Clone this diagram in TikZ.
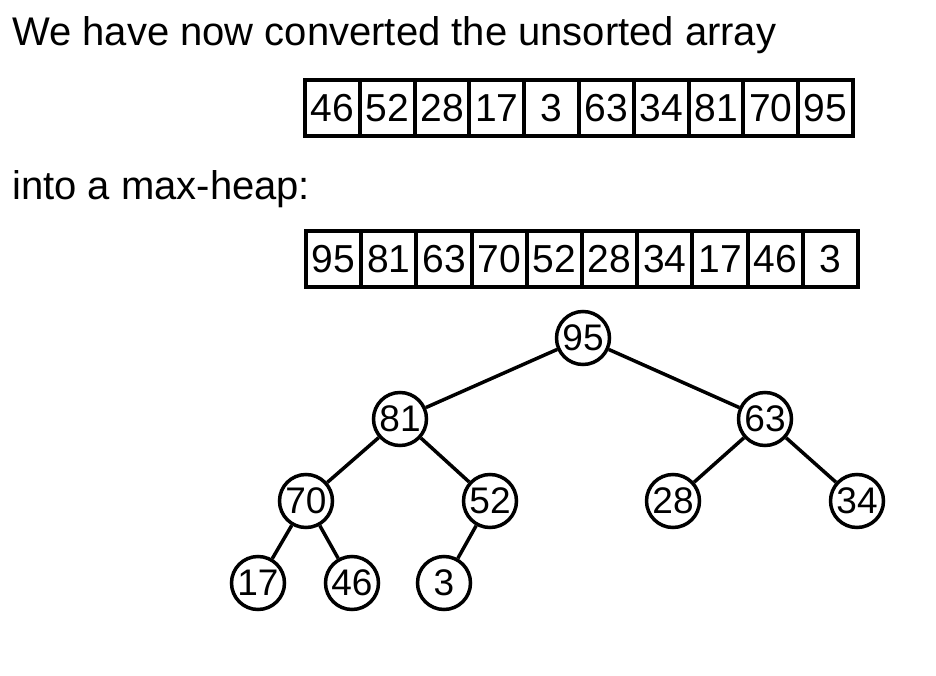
\documentclass[tikz,border=0pt]{standalone}
\usepackage{fontspec}
\setmainfont{Liberation Sans}
\begin{document}
\begin{tikzpicture}[x=1pt,y=-1pt,
  txt/.style={anchor=base west,inner sep=0pt,font=\fontsize{40}{42}\selectfont},
  cella/.style={draw,line width=4pt,minimum width=54.8pt,minimum height=56pt,inner sep=0pt,outer sep=0pt,font=\fontsize{39}{41}\selectfont},
  cellb/.style={cella,minimum width=55.2pt},
  heapnode/.style={circle,draw,line width=3.5pt,minimum size=53pt,inner sep=0pt,font=\fontsize{37}{39}\selectfont},
  every edge/.style={draw,line width=3.5pt}]
\useasboundingbox (0,0) rectangle (936,676);
% text
\node[txt] (t1) at (12,46) {We have now converted the unsorted array};
\node[txt] (t2) at (12,200) {into a max-heap:};
% unsorted array
\node[cella] (a1) at (332.4,108) {46};
\node[cella] (a2) at (387.2,108) {52};
\node[cella] (a3) at (442.0,108) {28};
\node[cella] (a4) at (496.8,108) {17};
\node[cella] (a5) at (551.6,108) {3};
\node[cella] (a6) at (606.4,108) {63};
\node[cella] (a7) at (661.2,108) {34};
\node[cella] (a8) at (716.0,108) {81};
\node[cella] (a9) at (770.8,108) {70};
\node[cella] (a10) at (825.6,108) {95};
% max-heap array
\node[cellb] (b1) at (333.6,259) {95};
\node[cellb] (b2) at (388.8,259) {81};
\node[cellb] (b3) at (444.0,259) {63};
\node[cellb] (b4) at (499.2,259) {70};
\node[cellb] (b5) at (554.4,259) {52};
\node[cellb] (b6) at (609.6,259) {28};
\node[cellb] (b7) at (664.8,259) {34};
\node[cellb] (b8) at (720.0,259) {17};
\node[cellb] (b9) at (775.2,259) {46};
\node[cellb] (b10) at (830.4,259) {3};
% heap
\node[heapnode] (n95) at (583,338) {95};
\node[heapnode] (n81) at (400,419) {81};
\node[heapnode] (n63) at (765,419) {63};
\node[heapnode] (n70) at (306,501) {70};
\node[heapnode] (n52) at (490,501) {52};
\node[heapnode] (n28) at (673,501) {28};
\node[heapnode] (n34) at (857,501) {34};
\node[heapnode] (n17) at (258,583) {17};
\node[heapnode] (n46) at (352,583) {46};
\node[heapnode] (n3) at (444,583) {3};
\path
  (n95) edge (n81)
  (n95) edge (n63)
  (n81) edge (n70)
  (n81) edge (n52)
  (n63) edge (n28)
  (n63) edge (n34)
  (n70) edge (n17)
  (n70) edge (n46)
  (n52) edge (n3)
;
\end{tikzpicture}
\end{document}
